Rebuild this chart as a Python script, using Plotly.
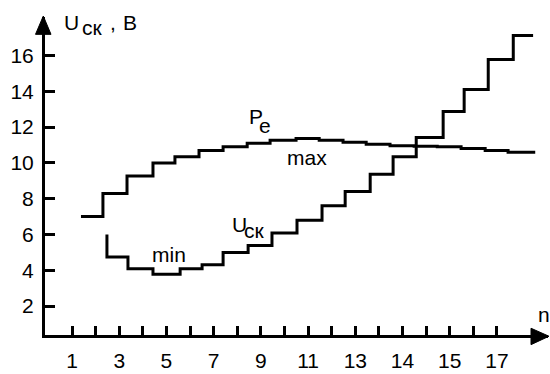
import plotly.graph_objects as go

# ---- data ----
pe_n = [1.38, 2.31, 3.33, 4.43, 5.36, 6.38, 7.40, 8.42, 9.39, 10.49, 11.47,
        12.48, 13.46, 14.47, 15.49, 16.47, 17.48, 18.50, 19.47, 20.62]
pe_v = [7.0, 8.29, 9.27, 10.0, 10.34, 10.7, 10.9, 11.1, 11.26, 11.37, 11.26,
        11.15, 11.05, 10.96, 10.93, 10.9, 10.8, 10.7, 10.6, 10.6]

u_n = [2.48, 2.48, 3.37, 4.43, 5.58, 6.51, 7.40, 8.46, 9.47, 10.53, 11.59,
       12.57, 13.63, 14.60, 15.58, 16.72, 17.61, 18.63, 19.69, 20.53]
u_v = [6.0, 4.74, 4.09, 3.78, 4.09, 4.31, 5.0, 5.39, 6.09, 6.79, 7.6,
       8.4, 9.37, 10.34, 11.42, 12.87, 14.1, 15.78, 17.12, 17.12]

x_tick_pos = list(range(1, 20))
x_tick_text = ["1", "", "3", "", "5", "", "7", "", "9", "", "11", "",
               "13", "", "14", "", "15", "", "17"]
y_tick_vals = [2, 4, 6, 8, 10, 12, 14, 16]

FONT = "Liberation Sans, Arial, sans-serif"
W, H = 550, 374
ML, MR, MT, MB = 45, 2, 17, 27

fig = go.Figure()
fig.add_trace(go.Scatter(x=pe_n, y=pe_v, mode="lines", line_shape="hv",
                         line=dict(color="black", width=3), hoverinfo="skip"))
fig.add_trace(go.Scatter(x=u_n, y=u_v, mode="lines", line_shape="hv",
                         line=dict(color="black", width=3), hoverinfo="skip"))

# paper-coordinate helpers (plot area pixels)
PW, PH = W - ML - MR, H - MT - MB
def px(x):
    return (x - ML) / PW
def py(y):
    return (H - MB - y) / PH

shapes = [
    dict(type="path", xref="paper", yref="paper",
         path=f"M {px(43.3)} {py(16)} L {px(35.5)} {py(35)} L {px(51)} {py(35)} Z",
         fillcolor="black", line=dict(color="black", width=1)),
    dict(type="path", xref="paper", yref="paper",
         path=f"M {px(549)} {py(348.3)} L {px(531)} {py(340)} L {px(531)} {py(357)} Z",
         fillcolor="black", line=dict(color="black", width=1)),
]

F_MAIN = dict(family=FONT, size=21, color="black")

def label(text, x, baseline, xanchor="left"):
    # middle of the text box sits ~7.4 px above the baseline for a 21 px font
    return dict(x=px(x), y=py(baseline - 7.4), xref="paper", yref="paper",
                text=text, showarrow=False, xanchor=xanchor, yanchor="middle",
                font=F_MAIN)

annotations = [
    # axis title  U_ск , B
    label("U", 62, 30),
    label("ск", 80, 35),
    label(",", 108, 30),
    label("B", 121, 30),
    # P_e
    label("P", 247, 128),
    label("e", 257, 137),
    # U_ск on the curve
    label("U", 230, 240),
    label("ск", 242, 246),
    label("max", 307, 170, "center"),
    label("min", 168.5, 271, "center"),
    label("n", 543.5, 333, "center"),
]

fig.update_layout(
    width=W, height=H,
    margin=dict(l=ML, r=MR, t=MT, b=MB),
    paper_bgcolor="white", plot_bgcolor="white",
    showlegend=False,
    shapes=shapes, annotations=annotations,
    xaxis=dict(range=[-0.1436, 21.161], showgrid=False, zeroline=False,
               showline=True, linecolor="black", linewidth=3,
               ticks="inside", ticklen=9, tickwidth=2.5, tickcolor="black",
               tickvals=x_tick_pos, ticktext=x_tick_text,
               ticklabelstandoff=5,
               tickfont=dict(family=FONT, size=21, color="black")),
    yaxis=dict(range=[0.3845, 18.154], showgrid=False, zeroline=False,
               showline=True, linecolor="black", linewidth=3,
               ticks="inside", ticklen=10, tickwidth=2.5, tickcolor="black",
               tickvals=y_tick_vals, ticklabelstandoff=4,
               tickfont=dict(family=FONT, size=21, color="black")),
)

fig.write_html("out.html")
